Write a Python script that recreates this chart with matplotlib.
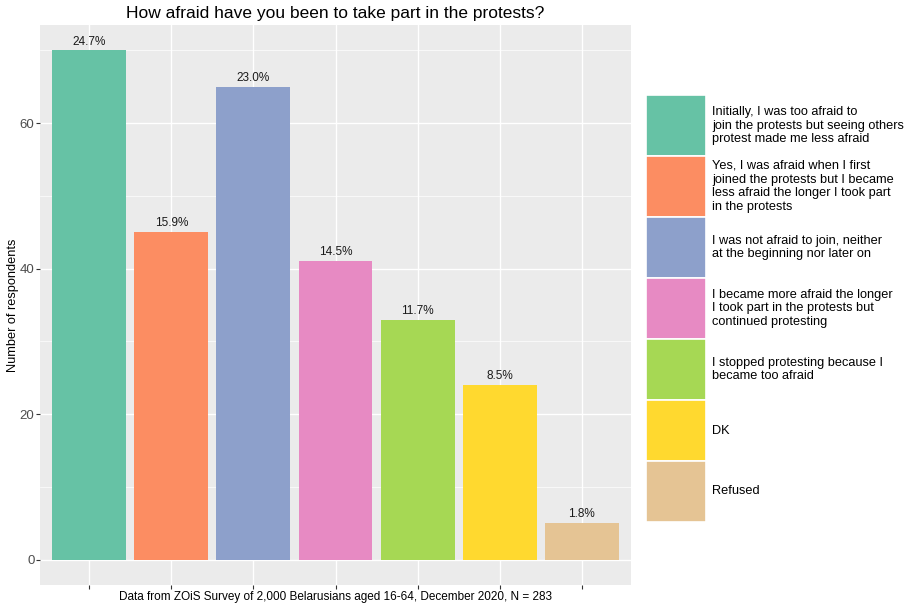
import numpy as np
import matplotlib.pyplot as plt
from matplotlib.patches import Rectangle

plt.rcParams['font.family'] = ['Liberation Sans', 'DejaVu Sans']

# Data
answers = [
    "Initially, I was too afraid to\njoin the protests but seeing others\nprotest made me less afraid",
    "Yes, I was afraid when I first\njoined the protests but I became\nless afraid the longer I took part\nin the protests",
    "I was not afraid to join, neither\nat the beginning nor later on",
    "I became more afraid the longer\nI took part in the protests but\ncontinued protesting",
    "I stopped protesting because I\nbecame too afraid",
    "DK",
    "Refused",
]
counts = [70, 45, 65, 41, 33, 24, 5]
pct_labels = ["24.7%", "15.9%", "23.0%", "14.5%", "11.7%", "8.5%", "1.8%"]
colors = ["#66C2A5", "#FC8D62", "#8DA0CB", "#E78AC3", "#A6D854", "#FFD92F", "#E5C494"]

fig = plt.figure(figsize=(9.05, 6.06), dpi=100)
ax = fig.add_axes([40 / 905, 1 - 585 / 606, 591 / 905, 560 / 606])

x = np.arange(1, len(counts) + 1)
ax.set_facecolor("#EBEBEB")
ax.bar(x, counts, width=0.9, color=colors, zorder=3)
for xi, c, lab in zip(x, counts, pct_labels):
    ax.text(xi, c + 0.4, lab, ha="center", va="bottom", fontsize=8.5, color="#1A1A1A", zorder=4)

ax.set_xlim(0.4, len(counts) + 0.6)
ax.set_ylim(-3.5, 73.5)
ax.set_xticks(x)
ax.set_xticklabels([])
ax.set_yticks([0, 20, 40, 60])
ax.set_yticks([10, 30, 50, 70], minor=True)
ax.grid(which="major", color="white", linewidth=1.0, zorder=0)
ax.grid(which="minor", axis="y", color="white", linewidth=0.5, zorder=0)
ax.set_axisbelow(True)
for s in ax.spines.values():
    s.set_visible(False)
ax.tick_params(which="major", length=3, color="#333333", labelsize=9.5, labelcolor="#4D4D4D",
               width=0.8, pad=1)
ax.tick_params(which="minor", length=0)
ax.set_ylabel("Number of respondents", fontsize=9.2, va="center")
ax.yaxis.set_label_coords(-27 / 591, 0.5)
fig.text(335 / 905, 1 - 597 / 606, "Data from ZOiS Survey of 2,000 Belarusians aged 16-64, December 2020, N = 283",
         ha="center", va="center", fontsize=8.5)
ax.set_title("How afraid have you been to take part in the protests?", fontsize=12.5, pad=5)

# Legend drawn as its own axes
lax = fig.add_axes([0, 0, 1, 1], facecolor="none")
lax.set_xlim(0, 905)
lax.set_ylim(606, 0)
lax.axis("off")
top, h, w, left = 95, 61, 60, 646
for i, (lab, col) in enumerate(zip(answers, colors)):
    y0 = top + i * h
    lax.add_patch(Rectangle((left, y0), w, h, facecolor=col, edgecolor="white", linewidth=1.2))
    lax.text(left + w + 6, y0 + h / 2, lab, ha="left", va="center", fontsize=9.2, linespacing=1.22)

fig.savefig("out.png", dpi=100)
